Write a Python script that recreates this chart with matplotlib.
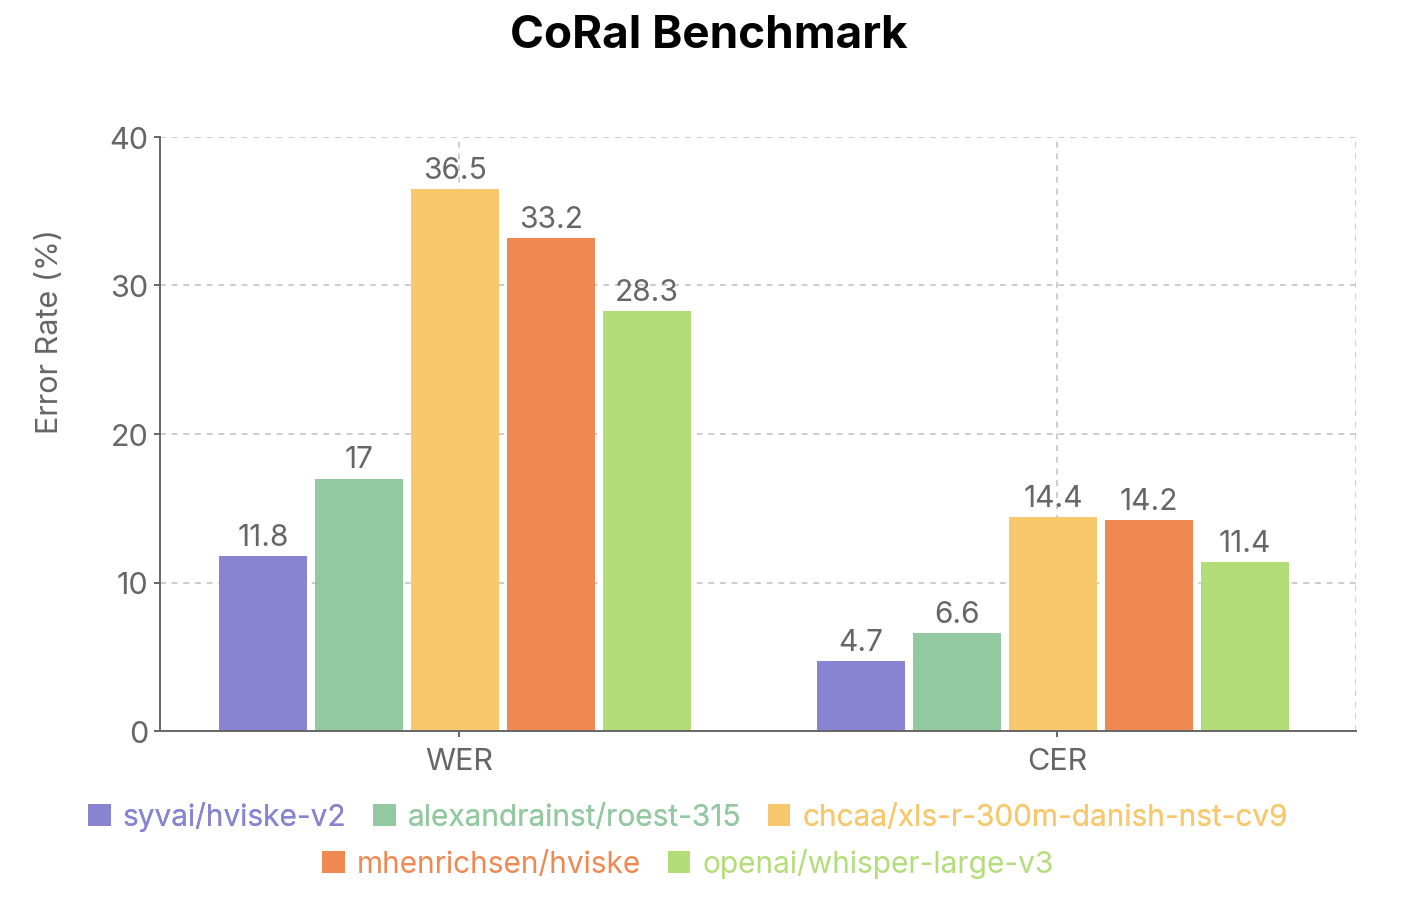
import numpy as np
from matplotlib import pyplot as plt
from matplotlib.patches import Patch

plt.rcParams['font.family'] = ['Inter', 'DejaVu Sans']

metrics = ['WER', 'CER']
models = ['syvai/hviske-v2', 'alexandrainst/roest-315', 'chcaa/xls-r-300m-danish-nst-cv9',
          'mhenrichsen/hviske', 'openai/whisper-large-v3']
values = [
    [11.8, 4.7],
    [17, 6.6],
    [36.5, 14.4],
    [33.2, 14.2],
    [28.3, 11.4],
]
colors = ['#8884d2', '#93c9a0', '#f7c86c', '#ef8951', '#b3dd79']
yticks = [0, 10, 20, 30, 40]

gray = '#666666'
fig = plt.figure(figsize=(14.18, 9.04), dpi=100)
ax = fig.add_axes([160 / 1418, 1 - 732 / 904, 1196 / 1418, 594 / 904])

x = np.arange(len(metrics))
width = 88 / 598
step = 96 / 598
shift = -4 / 598

# grid
for yv in yticks[1:]:
    ax.axhline(yv, color='#cccccc', lw=1.4, ls=(0, (3, 3)), zorder=0)
for xv in list(x) + [1.5]:
    ax.axvline(xv, color='#cccccc', lw=1.4, ls=(0, (3, 3)), zorder=0)

for i, (name, vals, c) in enumerate(zip(models, values, colors)):
    pos = x + shift + (i - 2) * step
    bars = ax.bar(pos, vals, width, color=c, label=name, zorder=2)
    for b, v in zip(bars, vals):
        label = ('%g' % v)
        ax.annotate(label, (b.get_x() + b.get_width() / 2, v), xytext=(0, 8),
                    textcoords='offset points', ha='center', va='baseline',
                    fontsize=21.5, color=gray)

ax.set_xlim(-0.5, 1.5)
ax.set_ylim(0, 40)
ax.set_xticks(x)
ax.set_xticklabels(metrics)
ax.set_yticks(yticks)
ax.tick_params(axis='both', colors=gray, labelsize=22, length=4.5, width=1.4, pad=4)
ax.tick_params(axis='x', pad=7)
for s in ['top', 'right']:
    ax.spines[s].set_visible(False)
for s in ['left', 'bottom']:
    ax.spines[s].set_color(gray)
    ax.spines[s].set_linewidth(1.4)

fig.text(50 / 1418, 1 - 332 / 904, 'Error Rate (%)', rotation=90, ha='center', va='center',
         fontsize=22, color=gray)
fig.text(0.5, 1 - 36 / 904, 'CoRal Benchmark', ha='center', va='center',
         fontsize=33, fontweight='bold', color='black')

handles = [Patch(facecolor=c, edgecolor='none') for c in colors]
leg1 = fig.legend(handles[:3], models[:3], loc='center', bbox_to_anchor=(688 / 1418, 1 - 817 / 904),
                  ncol=3, frameon=False, fontsize=21.5, labelcolor=colors[:3],
                  handlelength=0.75, handleheight=0.75, handletextpad=0.4, columnspacing=0.9)
fig.add_artist(leg1)
fig.legend(handles[3:], models[3:], loc='center', bbox_to_anchor=(688 / 1418, 1 - 864 / 904),
           ncol=2, frameon=False, fontsize=21.5, labelcolor=colors[3:],
           handlelength=0.75, handleheight=0.75, handletextpad=0.4, columnspacing=0.9)

plt.savefig('out.png', dpi=100)
